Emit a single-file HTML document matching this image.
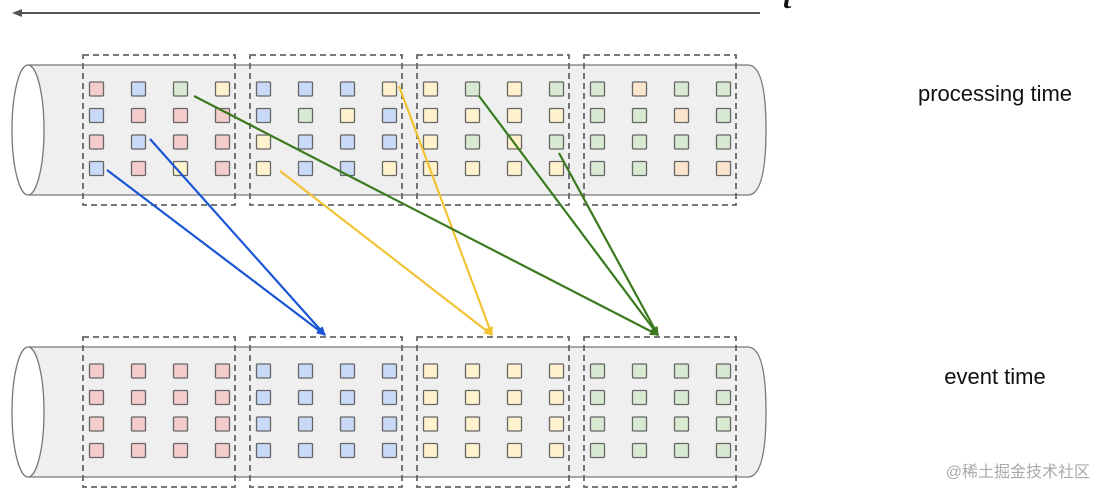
<!DOCTYPE html>
<html><head><meta charset="utf-8"><style>
html,body{margin:0;padding:0;background:#fff;width:1104px;height:498px;overflow:hidden}
svg{display:block}
</style></head><body>
<svg id="s" width="1104" height="498" viewBox="0 0 1104 498" xmlns="http://www.w3.org/2000/svg">
<defs>
<marker id="ab" markerWidth="10" markerHeight="10" refX="8" refY="5" orient="auto" markerUnits="userSpaceOnUse"><path d="M0,1 L9,5 L0,9 z" fill="#1a56d6"/></marker>
<marker id="ay" markerWidth="10" markerHeight="10" refX="8" refY="5" orient="auto" markerUnits="userSpaceOnUse"><path d="M0,1 L9,5 L0,9 z" fill="#f2c335"/></marker>
<marker id="ag" markerWidth="10" markerHeight="10" refX="8" refY="5" orient="auto" markerUnits="userSpaceOnUse"><path d="M0,1 L9,5 L0,9 z" fill="#3b7a1e"/></marker>
</defs>
<line x1="20" y1="13" x2="760" y2="13" stroke="#555" stroke-width="2"/>
<path d="M12,13 L22,9 L22,17 z" fill="#555"/>
<text x="783" y="8" font-family="Liberation Serif, serif" font-style="italic" font-weight="bold" font-size="30" fill="#111">t</text>
<g id="cyl"></g>
<g id="cells"></g>
<g stroke-width="2.2" fill="none">
<line x1="107" y1="170" x2="325" y2="335" stroke="#1a56d6" marker-end="url(#ab)"/>
<line x1="150" y1="139" x2="325" y2="335" stroke="#1a56d6" marker-end="url(#ab)"/>
<line x1="280" y1="171" x2="492" y2="335" stroke="#f2c335" marker-end="url(#ay)"/>
<line x1="399" y1="86" x2="492" y2="335" stroke="#f2c335" marker-end="url(#ay)"/>
<line x1="194" y1="96" x2="658" y2="335" stroke="#3b7a1e" marker-end="url(#ag)"/>
<line x1="479" y1="96" x2="658" y2="335" stroke="#3b7a1e" marker-end="url(#ag)"/>
<line x1="559" y1="153" x2="658" y2="335" stroke="#3b7a1e" marker-end="url(#ag)"/>
</g>
<text x="995" y="101" text-anchor="middle" font-family="Liberation Sans, sans-serif" font-size="22" fill="#111">processing time</text>
<text x="995" y="384" text-anchor="middle" font-family="Liberation Sans, sans-serif" font-size="22" fill="#111">event time</text>
<text x="1090" y="477" text-anchor="end" font-family="Liberation Sans, 'Noto Sans CJK SC', sans-serif" font-size="16" fill="#aaa">@稀土掘金技术社区</text>
</svg>
<script>
(function(){
var NS="http://www.w3.org/2000/svg";
function el(p,t,a){var e=document.createElementNS(NS,t);for(var k in a)e.setAttribute(k,a[k]);p.appendChild(e);return e;}
var cyl=document.getElementById('cyl'),cells=document.getElementById('cells');
var C={R:'#f4cccc',B:'#c9daf8',G:'#d9ead3',Y:'#fff2cc',O:'#fce5cd'};
var tg=["RBGY"+"BBBY"+"YGYG"+"GOGG","BRRR"+"BGYB"+"YYYY"+"GGOG","RBRR"+"YBBB"+"YGYG"+"GGGG","BRYR"+"YBBY"+"YYYY"+"GGOO"];
var bg=["RRRRBBBBYYYYGGGG","RRRRBBBBYYYYGGGG","RRRRBBBBYYYYGGGG","RRRRBBBBYYYYGGGG"];
var bx=[83,250,417,584];
function draw(y0,grid){
 el(cyl,'path',{d:'M28,'+y0+' L748,'+y0+' Q766,'+y0+' 766,'+(y0+65)+' Q766,'+(y0+130)+' 748,'+(y0+130)+' L28,'+(y0+130)+' Z',fill:'#efefef',stroke:'#777','stroke-width':1.3});
 el(cyl,'ellipse',{cx:28,cy:y0+65,rx:16,ry:65,fill:'#fff',stroke:'#777','stroke-width':1.3});
 for(var b=0;b<4;b++){
  el(cyl,'rect',{x:bx[b],y:y0-10,width:152,height:150,fill:'none',stroke:'#666','stroke-width':1.8,'stroke-dasharray':'6,4'});
  for(var r=0;r<4;r++)for(var c=0;c<4;c++){
   var ch=grid[r].charAt(b*4+c);
   el(cells,'rect',{x:bx[b]+6.5+c*42,y:y0+17+[0,26.5,53,79.5][r],width:14,height:14,fill:C[ch],stroke:'#666','stroke-width':1.3,rx:1});
  }
 }
}
draw(65,tg);draw(347,bg);
})();
</script>
</body></html>
